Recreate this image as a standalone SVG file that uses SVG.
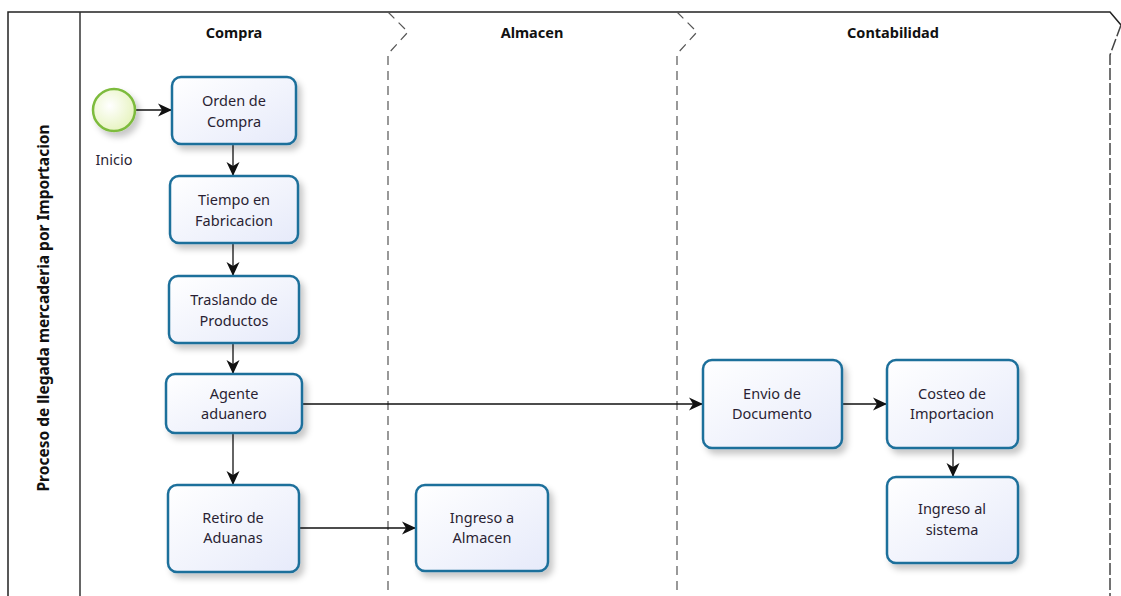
<svg xmlns="http://www.w3.org/2000/svg" width="1121" height="596" viewBox="0 0 1121 596">
<style>
.task rect{fill:url(#tg);stroke:#1f6f9b;stroke-width:2.5;filter:url(#sh)}
.t{font-family:"Noto Sans","Open Sans",sans-serif;font-size:14.5px;fill:#2a1f33;text-anchor:middle}
.lane{font-family:"Noto Sans","Open Sans",sans-serif;font-size:14.5px;font-weight:bold;fill:#111;text-anchor:middle}
.div{fill:none;stroke:#555;stroke-width:1.2;stroke-dasharray:9,6}
.c line{stroke:#111;stroke-width:1.3;marker-end:url(#ah)}
</style>
<defs>
<linearGradient id="tg" x1="0" y1="0" x2="1" y2="1"><stop offset="0" stop-color="#ffffff"/><stop offset="1" stop-color="#e6eafa"/></linearGradient>
<radialGradient id="sg" cx="0.4" cy="0.4" r="0.7"><stop offset="0" stop-color="#ffffff"/><stop offset="1" stop-color="#e4f2b8"/></radialGradient>
<filter id="sh" x="-20%" y="-20%" width="150%" height="150%"><feDropShadow dx="4" dy="5" stdDeviation="3" flood-color="#000" flood-opacity="0.22"/></filter>
<marker id="ah" markerWidth="16" markerHeight="16" refX="15" refY="8" orient="auto" markerUnits="userSpaceOnUse"><path d="M1,1.5 L15,8 L1,14.5 L5,8 z" fill="#111"/></marker>
</defs>
<rect width="1121" height="596" fill="#fff"/>
<g id="pool">
<path d="M8,596 V12 H1110 L1121,25" fill="none" stroke="#222" stroke-width="1.5"/>
<path d="M1121,25 L1110,55 V596" fill="none" stroke="#444" stroke-width="1.5" stroke-dasharray="12,3"/>
<line x1="80" y1="12" x2="80" y2="596" stroke="#333" stroke-width="1.5"/>
<text class="lane" transform="translate(49,308) rotate(-90)" style="font-size:15.5px">Proceso de llegada mercaderia por Importacion</text>
</g>
<g id="lanes">
<path class="div" d="M388,12 L408,32 L388,54 V596"/>
<path class="div" d="M677,12 L697,32 L677,54 V596"/>
<text class="lane" x="234" y="38">Compra</text>
<text class="lane" x="532" y="38">Almacen</text>
<text class="lane" x="893" y="38">Contabilidad</text>
</g>
<g id="connectors" class="c">
<line x1="135" y1="110" x2="172" y2="110"/>
<line x1="233" y1="144" x2="233" y2="176"/>
<line x1="233" y1="243" x2="233" y2="276"/>
<line x1="233" y1="343" x2="233" y2="374"/>
<line x1="233" y1="433" x2="233" y2="485"/>
<line x1="302" y1="404" x2="703" y2="404"/>
<line x1="299" y1="528" x2="416" y2="528"/>
<line x1="842" y1="404" x2="887" y2="404"/>
<line x1="953" y1="448" x2="953" y2="477"/>
</g>
<g id="inicio">
<circle cx="114" cy="110" r="21" fill="url(#sg)" stroke="#7dbb3c" stroke-width="2.5" filter="url(#sh)"/>
<text class="t" x="114" y="165">Inicio</text>
</g>
<g id="orden" class="task"><rect x="172" y="77" width="124" height="67" rx="9"/><text class="t" x="234" y="106">Orden de</text><text class="t" x="234" y="127">Compra</text></g>
<g id="tiempo" class="task"><rect x="170" y="176" width="128" height="67" rx="9"/><text class="t" x="234" y="205">Tiempo en</text><text class="t" x="234" y="226">Fabricacion</text></g>
<g id="traslando" class="task"><rect x="169" y="276" width="130" height="67" rx="9"/><text class="t" x="234" y="305">Traslando de</text><text class="t" x="234" y="326">Productos</text></g>
<g id="agente" class="task"><rect x="166" y="374" width="136" height="59" rx="9"/><text class="t" x="234" y="399">Agente</text><text class="t" x="234" y="419">aduanero</text></g>
<g id="retiro" class="task"><rect x="168" y="485" width="131" height="87" rx="9"/><text class="t" x="233" y="523">Retiro de</text><text class="t" x="233" y="543">Aduanas</text></g>
<g id="ingreso-almacen" class="task"><rect x="416" y="485" width="132" height="86" rx="9"/><text class="t" x="482" y="523">Ingreso a</text><text class="t" x="482" y="543">Almacen</text></g>
<g id="envio" class="task"><rect x="703" y="360" width="139" height="88" rx="9"/><text class="t" x="772" y="399">Envio de</text><text class="t" x="772" y="419">Documento</text></g>
<g id="costeo" class="task"><rect x="887" y="360" width="131" height="88" rx="9"/><text class="t" x="952" y="399">Costeo de</text><text class="t" x="952" y="419">Importacion</text></g>
<g id="ingreso-sistema" class="task"><rect x="887" y="477" width="131" height="86" rx="9"/><text class="t" x="952" y="514">Ingreso al</text><text class="t" x="952" y="535">sistema</text></g>
</svg>
